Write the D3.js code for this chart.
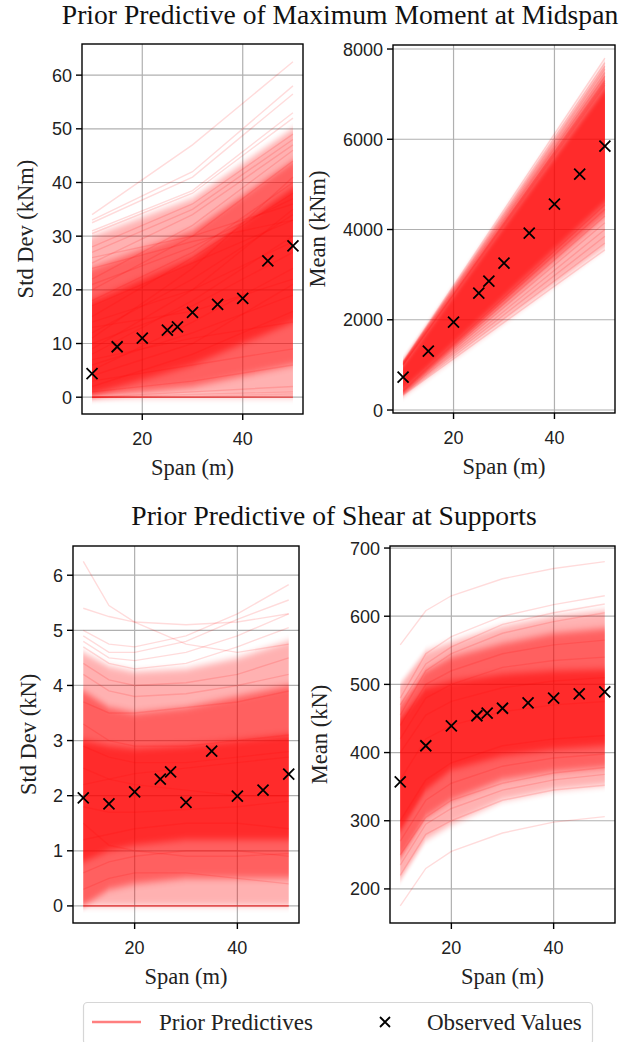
<!DOCTYPE html>
<html>
<head>
<meta charset="utf-8">
<script src="https://cdn.jsdelivr.net/npm/d3@7"></script>
<style>
  html, body { margin: 0; padding: 0; background: #fff; }
  svg { display: block; }
</style>
</head>
<body>
<div id="chart"></div>
<script>
// observed data
let spansObs = [10, 15, 20, 25, 27, 30, 35, 40, 45, 50];
let momentSdObs = [4.4, 9.4, 11.0, 12.5, 13.1, 15.8, 17.3, 18.4, 25.4, 28.2];
let momentMeanObs = [731, 1307, 1949, 2591, 2857, 3256, 3920, 4562, 5227, 5847];
let shearSdObs = [1.96, 1.85, 2.07, 2.30, 2.43, 1.88, 2.81, 1.99, 2.10, 2.39];
let shearMeanObs = [357, 410, 439, 454, 458, 465, 473, 480, 486, 489];

let momentSdSpans = [10, 30, 50];
let momentMeanSpans = [10, 50];
let shearSpans = [10, 15, 20, 30, 40, 50];

// prior predictive spread, read as [lower, upper] envelopes (outer -> core)
let momentSdBands = [
    [[0, 0, 0], [30, 37, 50]],
    [[0, 2, 6], [24, 31, 44]],
    [[0.5, 6, 14], [18, 26, 39]]
];
let momentMeanBands = [
    [[330, 3600], [1080, 7700]],
    [[380, 4300], [1060, 7400]],
    [[420, 4600], [1000, 7100]]
];
let shearSdBands = [
    [[0, 0, 0, 0, 0, 0], [4.6, 4.35, 4.25, 4.3, 4.5, 4.8]],
    [[0, 0.3, 0.4, 0.5, 0.5, 0.5], [3.9, 3.6, 3.5, 3.6, 3.8, 4.0]],
    [[0.8, 1.0, 1.1, 1.2, 1.2, 1.2], [3.0, 2.9, 2.85, 2.9, 3.0, 3.1]]
];
let shearMeanBands = [
    [[213, 272, 295, 330, 345, 352], [500, 548, 562, 585, 600, 608]],
    [[245, 305, 330, 360, 372, 378], [470, 520, 540, 560, 575, 582]],
    [[285, 345, 375, 395, 405, 410], [450, 495, 505, 515, 520, 522]]
];

// individual prior predictive curves
let momentSdLines = [
    [34, 47, 62.5], [33, 42, 58], [32.5, 41, 56.5], [31, 38.5, 53], [30.5, 38, 52],
    [2, 8, 16], [5, 14, 24], [8, 18, 30], [12, 22, 34], [15, 26, 38], [18, 27, 40],
    [20, 30, 44], [22, 32, 46], [25, 34, 47], [27, 35, 48], [3, 6, 9], [1, 3, 6],
    [0, 1, 2], [0, 0.5, 1], [0, 0, 0], [0, 0, 0], [0, 0, 0], [0, 0, 0], [0, 0, 0.3],
    [0, 0.2, 0.6], [6, 12, 19], [10, 17, 27],
    [14, 20, 29], [26, 30, 36], [28, 36, 49], [17, 25, 33], [9, 20, 35], [4, 10, 21],
    [11, 24, 41], [21, 28, 37], [7, 11, 14], [24, 29, 33], [13, 16, 22]
];
let momentMeanLines = [
    [1080, 7800], [1060, 7700], [1050, 7620], [1040, 7560], [1030, 7480], [1020, 7400],
    [1000, 7300], [1010, 7250], [990, 7200], [330, 3550], [350, 3700], [370, 3850],
    [380, 4000], [400, 4150], [410, 4300], [420, 4450], [440, 4550]
];
let shearSdLines = [
    [6.25, 5.45, 5.15, 4.75, 4.6, 4.75], [5.4, 5.25, 5.15, 5.1, 5.15, 5.3],
    [5.0, 4.75, 4.7, 4.9, 5.3, 5.83], [4.9, 4.6, 4.6, 4.8, 5.2, 5.55],
    [4.8, 4.5, 4.45, 4.6, 4.9, 5.3], [4.7, 4.4, 4.3, 4.4, 4.7, 5.05],
    [2.5, 2.3, 2.2, 2.1, 2.0, 2.0], [3.3, 3.0, 2.9, 2.9, 3.0, 3.1],
    [4.2, 3.9, 3.8, 3.85, 4.0, 4.2], [4.4, 4.1, 4.0, 4.05, 4.2, 4.5],
    [3.7, 3.5, 3.5, 3.6, 3.7, 3.9], [1.2, 1.3, 1.4, 1.5, 1.5, 1.4],
    [0.6, 0.8, 0.9, 1.0, 1.0, 0.9], [0.3, 0.5, 0.6, 0.6, 0.5, 0.4],
    [1.8, 1.7, 1.7, 1.75, 1.8, 1.9], [0, 0, 0, 0, 0, 0], [0, 0, 0, 0, 0, 0],
    [0, 0, 0, 0, 0, 0], [0, 0, 0, 0, 0, 0], [0, 0, 0, 0, 0, 0], [0, 0, 0, 0, 0, 0],
    [2.9, 2.7, 2.6, 2.6, 2.7, 2.8], [1.5, 1.1, 1.0, 0.9, 0.9, 0.95],
    [2.2, 2.3, 2.4, 2.5, 2.6, 2.7]
];
let shearMeanLines = [
    [558, 608, 630, 655, 670, 680], [175, 230, 255, 282, 298, 306],
    [480, 545, 570, 600, 617, 630], [470, 530, 555, 588, 605, 618],
    [455, 520, 545, 575, 592, 605], [220, 280, 300, 330, 345, 352],
    [235, 295, 318, 345, 360, 368], [250, 305, 330, 355, 370, 378],
    [420, 480, 500, 525, 535, 540], [300, 360, 385, 410, 420, 425],
    [440, 500, 520, 545, 558, 565], [360, 420, 440, 460, 470, 475],
    [270, 330, 355, 380, 392, 398], [400, 455, 475, 495, 505, 510]
];

// ticks
let xTicks = [20, 40];
let momentSdTicks = [0, 10, 20, 30, 40, 50, 60];
let momentMeanTicks = [0, 2000, 4000, 6000, 8000];
let shearSdTicks = [0, 1, 2, 3, 4, 5, 6];
let shearMeanTicks = [200, 300, 400, 500, 600, 700];

// colors
let colorRed = "#ff0000";
let colorGrid = "#b0b0b0";
let bandOpacity = [0.3, 0.45, 0.55];

let width = 624, height = 1042;
let serif = "'Liberation Serif', 'Times New Roman', serif";
let sans = "'Liberation Sans', Arial, sans-serif";

let svg = d3.select("#chart").append("svg")
    .attr("width", width)
    .attr("height", height);

// soften band edges vertically only, so the span ends stay sharp
let defs = svg.append("defs");
defs.append("filter").attr("id", "vblur")
    .attr("x", "-5%").attr("y", "-20%").attr("width", "110%").attr("height", "140%")
    .append("feGaussianBlur").attr("stdDeviation", "0 3.5");

function drawPanel(p) {
    let x = d3.scaleLinear().domain([8, 52]).range([p.left, p.right]);
    let y = d3.scaleLinear().domain(p.yDomain).range([p.bottom, p.top]);
    let g = svg.append("g");

    let clipId = "clip" + p.id;
    g.append("clipPath").attr("id", clipId)
        .append("rect")
        .attr("x", p.left).attr("y", p.top)
        .attr("width", p.right - p.left).attr("height", p.bottom - p.top);

    // grid
    g.selectAll(".gx").data(xTicks).enter().append("line")
        .attr("x1", d => x(d)).attr("x2", d => x(d))
        .attr("y1", p.top).attr("y2", p.bottom)
        .style("stroke", colorGrid).style("stroke-width", 1.2);
    g.selectAll(".gy").data(p.yTicks).enter().append("line")
        .attr("x1", p.left).attr("x2", p.right)
        .attr("y1", d => y(d)).attr("y2", d => y(d))
        .style("stroke", colorGrid).style("stroke-width", 1.2);

    let marks = g.append("g").attr("clip-path", "url(#" + clipId + ")");

    // bands
    let area = d3.area()
        .x((d, i) => x(p.spans[i]))
        .y0(d => y(d[0]))
        .y1(d => y(d[1]));
    p.bands.forEach(function(b, k) {
        let pts = b[0].map((v, i) => [v, b[1][i]]);
        marks.append("path")
            .attr("d", area(pts))
            .attr("filter", "url(#vblur)")
            .style("fill", colorRed)
            .style("opacity", bandOpacity[k]);
    });

    // individual curves
    let line = d3.line()
        .x((d, i) => x(p.spans[i]))
        .y(d => y(d));
    marks.selectAll(".pp").data(p.lines).enter().append("path")
        .attr("d", line)
        .style("fill", "none")
        .style("stroke", colorRed)
        .style("stroke-width", 1.4)
        .style("opacity", 0.14);

    // observed values
    let s = 5.5;
    let obs = marks.selectAll(".obs").data(p.obs).enter().append("g")
        .attr("transform", (d, i) => "translate(" + x(spansObs[i]) + "," + y(d) + ")");
    obs.append("path")
        .attr("d", "M" + (-s) + "," + (-s) + "L" + s + "," + s + "M" + (-s) + "," + s + "L" + s + "," + (-s))
        .style("stroke", "#000")
        .style("stroke-width", 1.8);

    // spines
    g.append("rect")
        .attr("x", p.left).attr("y", p.top)
        .attr("width", p.right - p.left).attr("height", p.bottom - p.top)
        .style("fill", "none").style("stroke", "#000").style("stroke-width", 1.4);

    // ticks
    g.selectAll(".tx").data(xTicks).enter().append("line")
        .attr("x1", d => x(d)).attr("x2", d => x(d))
        .attr("y1", p.bottom).attr("y2", p.bottom + 6)
        .style("stroke", "#000").style("stroke-width", 1.4);
    g.selectAll(".tlx").data(xTicks).enter().append("text")
        .attr("x", d => x(d)).attr("y", p.bottom + 31)
        .attr("text-anchor", "middle")
        .style("font-family", sans).style("font-size", "18px").style("fill", "#222")
        .text(d => d);
    g.selectAll(".ty").data(p.yTicks).enter().append("line")
        .attr("x1", p.left - 6).attr("x2", p.left)
        .attr("y1", d => y(d)).attr("y2", d => y(d))
        .style("stroke", "#000").style("stroke-width", 1.4);
    g.selectAll(".tly").data(p.yTicks).enter().append("text")
        .attr("x", p.left - 10).attr("y", d => y(d) + 6.5)
        .attr("text-anchor", "end")
        .style("font-family", sans).style("font-size", "18px").style("fill", "#222")
        .text(d => d);

    // axis labels
    g.append("text")
        .attr("x", (p.left + p.right) / 2).attr("y", p.bottom + 61)
        .attr("text-anchor", "middle")
        .style("font-family", serif).style("font-size", "22.5px").style("fill", "#222")
        .text("Span (m)");
    g.append("text")
        .attr("transform", "translate(" + p.ylabelX + "," + ((p.top + p.bottom) / 2) + ") rotate(-90)")
        .attr("text-anchor", "middle")
        .style("font-family", serif).style("font-size", "22.5px").style("fill", "#222")
        .text(p.ylabel);
}

drawPanel({id: 1, left: 82, right: 303, top: 44, bottom: 414, yDomain: [-3.13, 65.8],
    yTicks: momentSdTicks, spans: momentSdSpans, bands: momentSdBands, lines: momentSdLines,
    obs: momentSdObs, ylabel: "Std Dev (kNm)", ylabelX: 33});
drawPanel({id: 2, left: 393, right: 615, top: 45, bottom: 413, yDomain: [-66, 8089],
    yTicks: momentMeanTicks, spans: momentMeanSpans, bands: momentMeanBands, lines: momentMeanLines,
    obs: momentMeanObs, ylabel: "Mean (kNm)", ylabelX: 325});
drawPanel({id: 3, left: 73, right: 299, top: 546, bottom: 923, yDomain: [-0.31, 6.53],
    yTicks: shearSdTicks, spans: shearSpans, bands: shearSdBands, lines: shearSdLines,
    obs: shearSdObs, ylabel: "Std Dev (kN)", ylabelX: 36});
drawPanel({id: 4, left: 390, right: 615, top: 546, bottom: 923, yDomain: [150, 703],
    yTicks: shearMeanTicks, spans: shearSpans, bands: shearMeanBands, lines: shearMeanLines,
    obs: shearMeanObs, ylabel: "Mean (kN)", ylabelX: 327});

// row titles
svg.append("text").attr("x", 340).attr("y", 24).attr("text-anchor", "middle")
    .style("font-family", serif).style("font-size", "27.6px").style("fill", "#111")
    .text("Prior Predictive of Maximum Moment at Midspan");
svg.append("text").attr("x", 334).attr("y", 525).attr("text-anchor", "middle")
    .style("font-family", serif).style("font-size", "27.6px").style("fill", "#111")
    .text("Prior Predictive of Shear at Supports");

// legend
let legend = svg.append("g");
legend.append("rect")
    .attr("x", 83.5).attr("y", 1002.5).attr("width", 509).attr("height", 42).attr("rx", 4)
    .style("fill", "#fff").style("stroke", "#d6d6d6").style("stroke-width", 1.2);
legend.append("line")
    .attr("x1", 92).attr("x2", 141).attr("y1", 1022).attr("y2", 1022)
    .style("stroke", colorRed).style("stroke-opacity", 0.5).style("stroke-width", 2.6);
legend.append("path")
    .attr("d", "M380,1017L390,1027M380,1027L390,1017")
    .style("stroke", "#000").style("stroke-width", 1.8);
legend.append("text").attr("x", 159).attr("y", 1030)
    .style("font-family", serif).style("font-size", "23px").style("fill", "#222")
    .text("Prior Predictives");
legend.append("text").attr("x", 427).attr("y", 1030)
    .style("font-family", serif).style("font-size", "23px").style("fill", "#222")
    .text("Observed Values");
</script>
</body>
</html>
